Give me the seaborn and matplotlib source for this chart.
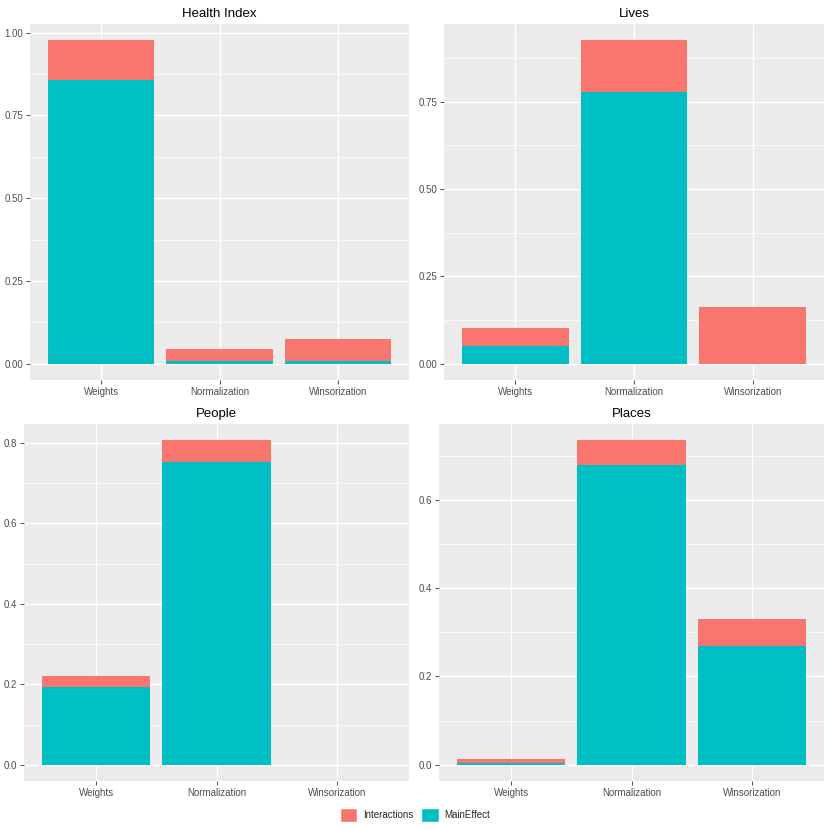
import numpy as np
import pandas as pd
import matplotlib
matplotlib.use("Agg")
import matplotlib.pyplot as plt
from matplotlib.patches import Patch
from matplotlib.ticker import AutoMinorLocator, FixedLocator
import seaborn as sns

# values
categories = ["Weights", "Normalization", "Winsorization"]
panels = ["Health Index", "Lives", "People", "Places"]
main_effect = {
    "Health Index": [0.856, 0.010, 0.010],
    "Lives": [0.050, 0.778, 0.0],
    "People": [0.193, 0.752, 0.0],
    "Places": [0.004, 0.678, 0.269],
}
interactions = {
    "Health Index": [0.121, 0.034, 0.065],
    "Lives": [0.053, 0.148, 0.163],
    "People": [0.027, 0.055, 0.0],
    "Places": [0.008, 0.057, 0.062],
}
y_ticks = {
    "Health Index": [0.0, 0.25, 0.5, 0.75, 1.0],
    "Lives": [0.0, 0.25, 0.5, 0.75],
    "People": [0.0, 0.2, 0.4, 0.6, 0.8],
    "Places": [0.0, 0.2, 0.4, 0.6],
}
y_fmt = {"Health Index": "{:.2f}", "Lives": "{:.2f}", "People": "{:.1f}", "Places": "{:.1f}"}

red = "#F8766D"
teal = "#00BFC4"

sns.set_theme(style="darkgrid", rc={
    "axes.facecolor": "#EBEBEB",
    "grid.color": "white",
    "axes.edgecolor": "none",
})
plt.rcParams["font.family"] = ["Liberation Sans", "DejaVu Sans"]

fig = plt.figure(figsize=(8.3, 8.3), dpi=100)
W = 830.0
boxes = {
    "Health Index": (30, 409, 24, 380),
    "Lives": (444, 824, 24, 380),
    "People": (24, 409, 424, 781),
    "Places": (439, 824, 424, 781),
}

for name in panels:
    x0, x1, y0, y1 = boxes[name]
    ax = fig.add_axes([x0 / W, 1 - y1 / W, (x1 - x0) / W, (y1 - y0) / W])
    df = pd.DataFrame({
        "Parameter": categories,
        "MainEffect": main_effect[name],
        "Interactions": interactions[name],
    })
    df["Total"] = df["MainEffect"] + df["Interactions"]
    sns.barplot(data=df, x="Parameter", y="Total", order=categories, color=red,
                saturation=1, width=0.9, errorbar=None, ax=ax, linewidth=0)
    sns.barplot(data=df, x="Parameter", y="MainEffect", order=categories, color=teal,
                saturation=1, width=0.9, errorbar=None, ax=ax, linewidth=0)
    top = df["Total"].max()
    ax.set_xlim(-0.6, 2.6)
    ax.set_ylim(-0.05 * top, top * 1.05)
    ticks = y_ticks[name]
    ax.yaxis.set_major_locator(FixedLocator(ticks))
    ax.set_yticklabels([y_fmt[name].format(t) for t in ticks])
    ax.yaxis.set_minor_locator(AutoMinorLocator(2))
    ax.grid(True, which="major", color="white", linewidth=1.0)
    ax.grid(True, which="minor", axis="y", color="white", linewidth=0.5)
    ax.set_axisbelow(True)
    ax.set_xlabel("")
    ax.set_ylabel("")
    ax.set_title(name, fontsize=9.5, pad=5, color="black")
    ax.tick_params(axis="both", which="major", labelsize=7, labelcolor="#4D4D4D",
                   color="#333333", length=2.8, width=0.6, pad=2, bottom=True, left=True)
    ax.tick_params(axis="y", which="minor", length=0)
    for s in ax.spines.values():
        s.set_visible(False)

handles = [Patch(facecolor=red, label="Interactions"), Patch(facecolor=teal, label="MainEffect")]
fig.legend(handles=handles, loc="center", bbox_to_anchor=(0.5, 1 - 815 / W), ncol=2,
           frameon=False, fontsize=7, handlelength=1.8, handleheight=1.8,
           handletextpad=0.6, columnspacing=0.8)

fig.savefig("out.png", dpi=100, facecolor="white")
